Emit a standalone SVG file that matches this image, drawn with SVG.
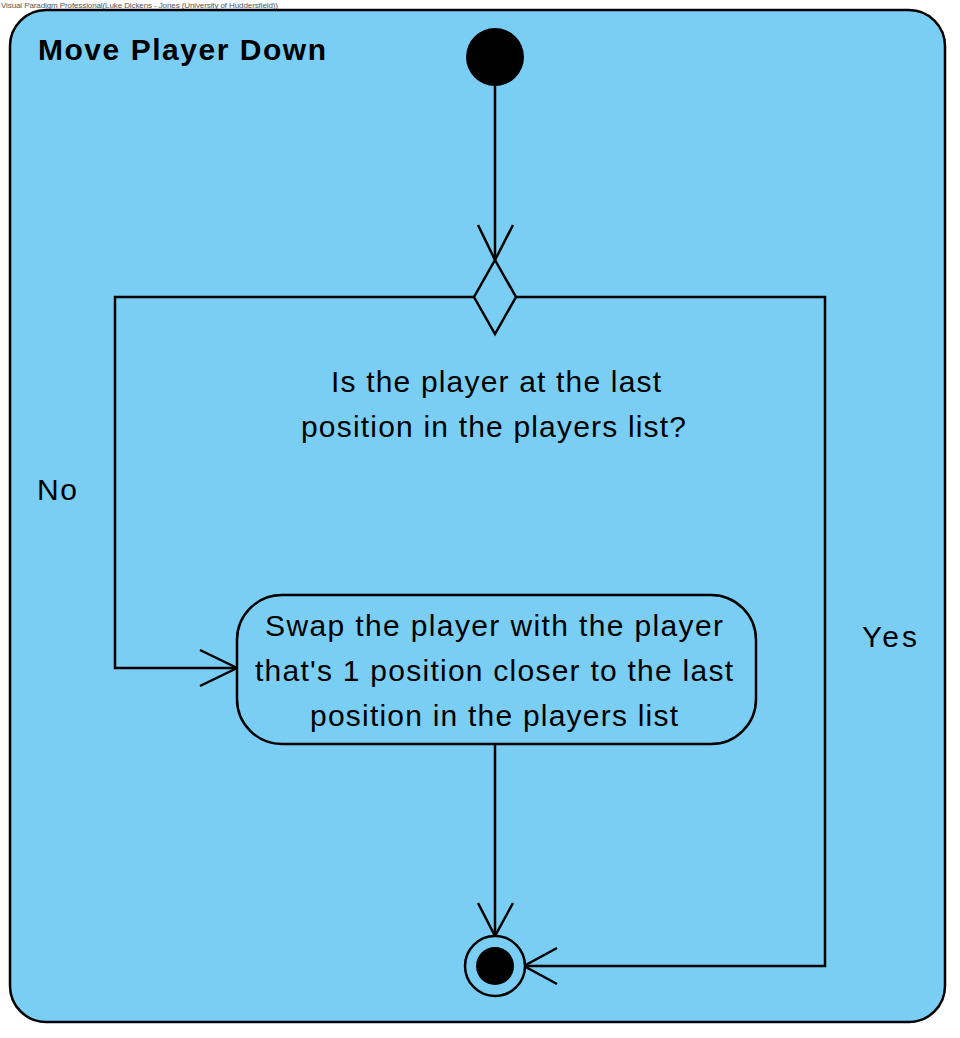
<svg xmlns="http://www.w3.org/2000/svg" width="960" height="1038" viewBox="0 0 960 1038">
<style>
.ln{fill:none;stroke:#000;stroke-width:2.5;stroke-linecap:butt;stroke-linejoin:miter}
.t{font-family:"Liberation Sans",Arial,sans-serif;font-size:30px;fill:#000}
.c{text-anchor:middle}
</style>
<rect width="960" height="1038" fill="#fff"/>
<text x="1" y="8" font-family="Liberation Sans, Arial, sans-serif" font-size="8" fill="#555" textLength="277">Visual Paradigm Professional(Luke Dickens - Jones (University of Huddersfield))</text>
<g id="frame">
<rect x="10" y="10" width="935" height="1012" rx="36" ry="36" fill="#7ACEF4" stroke="#000" stroke-width="2.5"/>
<text x="38" y="60" class="t" font-weight="bold" font-size="31" textLength="288">Move Player Down</text>
</g>
<g id="connectors">
<path class="ln" d="M495,86 V260"/>
<path class="ln" d="M478,225 L495,260 L513,225"/>
<path class="ln" d="M474,297 H115 V668 H237"/>
<path class="ln" d="M200,650 L237,668 L200,686"/>
<path class="ln" d="M516,297 H825 V966 H524"/>
<path class="ln" d="M557,948 L524,966 L557,984"/>
<path class="ln" d="M495,744 V936"/>
<path class="ln" d="M478,903 L495,936 L513,903"/>
<text x="37" y="500" class="t" textLength="40">No</text>
<text x="862" y="647" class="t" textLength="55">Yes</text>
</g>
<g id="initial">
<circle cx="495" cy="57" r="29" fill="#000"/>
</g>
<g id="decision">
<path d="M495,260 L516,297 L495,334 L474,297 Z" fill="#7ACEF4" stroke="#000" stroke-width="2.5"/>
<text x="331" y="392" class="t" textLength="330">Is the player at the last</text>
<text x="301" y="437" class="t" textLength="385">position in the players list?</text>
</g>
<g id="swap">
<rect x="237" y="595" width="519" height="149" rx="45" ry="45" fill="#7ACEF4" stroke="#000" stroke-width="2.5"/>
<text x="265" y="636" class="t" textLength="458">Swap the player with the player</text>
<text x="255" y="681" class="t" textLength="478">that's 1 position closer to the last</text>
<text x="310" y="726" class="t" textLength="368">position in the players list</text>
</g>
<g id="final">
<circle cx="495" cy="966" r="30" fill="#7ACEF4" stroke="#000" stroke-width="2.5"/>
<circle cx="495" cy="966" r="19" fill="#000"/>
</g>
</svg>
